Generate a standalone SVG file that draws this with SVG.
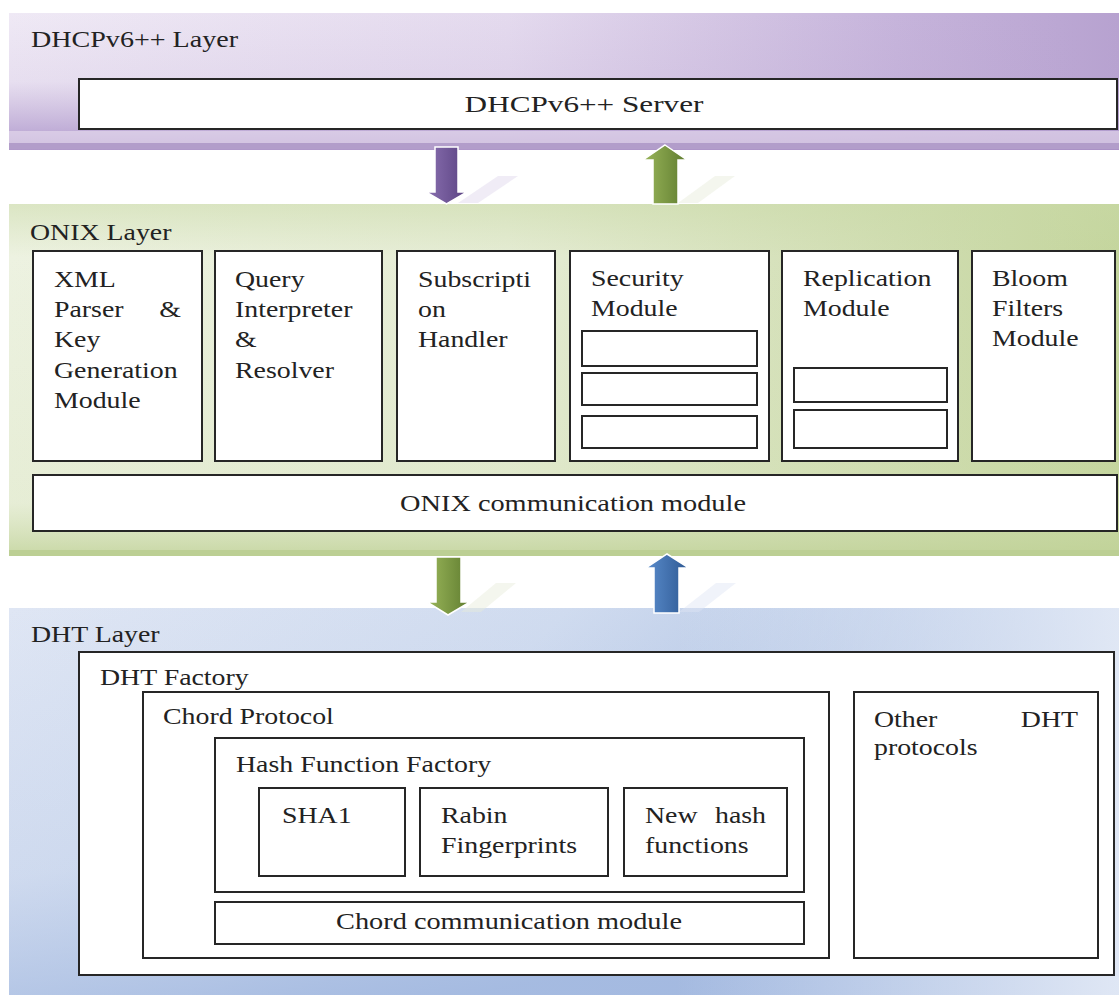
<svg xmlns="http://www.w3.org/2000/svg" width="1119" height="995" viewBox="0 0 1119 995">
<defs>
<linearGradient id="pH" x1="0" y1="0" x2="1" y2="0"><stop offset="0" stop-color="#efe9f5"/><stop offset="0.45" stop-color="#e4daee"/><stop offset="0.8" stop-color="#c6b4db"/><stop offset="1" stop-color="#b7a2d0"/></linearGradient>
<linearGradient id="pV" x1="0" y1="0" x2="0" y2="1"><stop offset="0" stop-color="#b9a4d1" stop-opacity="0"/><stop offset="0.5" stop-color="#b9a4d1" stop-opacity="0.15"/><stop offset="0.85" stop-color="#b29cce" stop-opacity="0.75"/><stop offset="1" stop-color="#a88fc4" stop-opacity="0.9"/></linearGradient>
<linearGradient id="gH" x1="0" y1="0" x2="1" y2="0"><stop offset="0" stop-color="#edf2e1"/><stop offset="0.45" stop-color="#e5ecd4"/><stop offset="0.8" stop-color="#d0ddb1"/><stop offset="1" stop-color="#c4d59d"/></linearGradient>
<linearGradient id="gV" x1="0" y1="0" x2="0" y2="1"><stop offset="0" stop-color="#c9d9a6" stop-opacity="0.5"/><stop offset="0.15" stop-color="#c9d9a6" stop-opacity="0"/><stop offset="0.85" stop-color="#cbdaa8" stop-opacity="0.2"/><stop offset="1" stop-color="#bfd196" stop-opacity="0.8"/></linearGradient>
<linearGradient id="bD" x1="0" y1="0" x2="1" y2="0.35"><stop offset="0" stop-color="#dfe6f4"/><stop offset="0.45" stop-color="#d2ddf0"/><stop offset="1" stop-color="#a0b7de"/></linearGradient>
<linearGradient id="bV" x1="0" y1="0" x2="0.4" y2="1"><stop offset="0" stop-color="#a7bce1" stop-opacity="0"/><stop offset="0.6" stop-color="#a7bce1" stop-opacity="0.2"/><stop offset="1" stop-color="#a3b9e0" stop-opacity="0.9"/></linearGradient>
<linearGradient id="bR" x1="0" y1="0" x2="1" y2="0"><stop offset="0" stop-color="#e6ecf7" stop-opacity="0"/><stop offset="0.6" stop-color="#e6ecf7" stop-opacity="0"/><stop offset="1" stop-color="#e6ecf7" stop-opacity="0.9"/></linearGradient>
<linearGradient id="aPurple" x1="0" y1="0" x2="1" y2="0"><stop offset="0" stop-color="#8a70b0"/><stop offset="1" stop-color="#5a4282"/></linearGradient>
<linearGradient id="aGreen" x1="0" y1="0" x2="1" y2="0"><stop offset="0" stop-color="#9ab65a"/><stop offset="1" stop-color="#5f7c2f"/></linearGradient>
<linearGradient id="aBlue" x1="0" y1="0" x2="1" y2="0"><stop offset="0" stop-color="#5a8ccc"/><stop offset="1" stop-color="#2d5892"/></linearGradient>
</defs>
<style>
.box{fill:#ffffff;stroke:#262626;stroke-width:2}
.t{font-family:"Liberation Serif","Times New Roman",serif;font-size:24px;fill:#222}
.arr{stroke:#ffffff;stroke-width:1.5}
.sh{opacity:0.45}
</style>

<g id="dhcp-layer">
<rect x="9" y="13" width="1110" height="137" fill="url(#pH)"/>
<rect x="9" y="13" width="1110" height="137" fill="url(#pV)"/>
<rect x="9" y="131" width="1110" height="12" fill="#ece4f3" opacity="0.55"/>
<rect x="9" y="143" width="1110" height="6" fill="#b29dca"/>
<text class="t" transform="translate(31 47) scale(1.17 1)">DHCPv6++ Layer</text>
</g>
<g id="dhcp-server">
<rect class="box" x="79" y="79" width="1038" height="50"/>
<text class="t" text-anchor="middle" transform="translate(584 112) scale(1.3 1)">DHCPv6++ Server</text>
</g>

<g id="onix-layer">
<rect x="9" y="204" width="1110" height="352" fill="url(#gH)"/>
<rect x="9" y="204" width="1110" height="352" fill="url(#gV)"/>
<rect x="9" y="550" width="1110" height="6" fill="#bccf94"/>
<text class="t" transform="translate(30 240) scale(1.16 1)">ONIX Layer</text>
</g>
<g id="xml-parser">
<rect class="box" x="33" y="251" width="169" height="210"/>
<text class="t" transform="translate(54 287) scale(1.16 1)">XML</text>
<text class="t" transform="translate(54 317) scale(1.16 1)">Parser</text>
<text class="t" text-anchor="end" transform="translate(181 317) scale(1.16 1)">&amp;</text>
<text class="t" transform="translate(54 347) scale(1.16 1)">Key</text>
<text class="t" transform="translate(54 378) scale(1.16 1)">Generation</text>
<text class="t" transform="translate(54 408) scale(1.16 1)">Module</text>
</g>
<g id="query-interpreter">
<rect class="box" x="215" y="251" width="167" height="210"/>
<text class="t" transform="translate(235 287) scale(1.16 1)">Query</text>
<text class="t" transform="translate(235 317) scale(1.16 1)">Interpreter</text>
<text class="t" transform="translate(235 347) scale(1.16 1)">&amp;</text>
<text class="t" transform="translate(235 378) scale(1.16 1)">Resolver</text>
</g>
<g id="subscription-handler">
<rect class="box" x="397" y="251" width="158" height="210"/>
<text class="t" transform="translate(418 287) scale(1.16 1)">Subscripti</text>
<text class="t" transform="translate(418 317) scale(1.16 1)">on</text>
<text class="t" transform="translate(418 347) scale(1.16 1)">Handler</text>
</g>
<g id="security-module">
<rect class="box" x="570" y="251" width="199" height="210"/>
<text class="t" transform="translate(591 286) scale(1.16 1)">Security</text>
<text class="t" transform="translate(591 316) scale(1.16 1)">Module</text>
<rect class="box" x="582" y="331" width="175" height="35"/>
<rect class="box" x="582" y="373" width="175" height="32"/>
<rect class="box" x="582" y="416" width="175" height="32"/>
</g>
<g id="replication-module">
<rect class="box" x="782" y="251" width="176" height="210"/>
<text class="t" transform="translate(803 286) scale(1.16 1)">Replication</text>
<text class="t" transform="translate(803 316) scale(1.16 1)">Module</text>
<rect class="box" x="794" y="368" width="153" height="34"/>
<rect class="box" x="794" y="410" width="153" height="38"/>
</g>
<g id="bloom-filters">
<rect class="box" x="972" y="251" width="143" height="210"/>
<text class="t" transform="translate(992 286) scale(1.16 1)">Bloom</text>
<text class="t" transform="translate(992 316) scale(1.16 1)">Filters</text>
<text class="t" transform="translate(992 346) scale(1.16 1)">Module</text>
</g>
<g id="onix-comm">
<rect class="box" x="33" y="475" width="1084" height="56"/>
<text class="t" text-anchor="middle" transform="translate(573 511) scale(1.18 1)">ONIX communication module</text>
</g>

<g id="dht-layer">
<rect x="9" y="608" width="1110" height="387" fill="url(#bD)"/>
<rect x="9" y="608" width="1110" height="387" fill="url(#bV)"/>
<rect x="9" y="608" width="1110" height="387" fill="url(#bR)"/>
<text class="t" transform="translate(31 642) scale(1.16 1)">DHT Layer</text>
</g>
<g id="dht-factory">
<rect class="box" x="79" y="652" width="1035" height="323"/>
<text class="t" transform="translate(100 685) scale(1.16 1)">DHT Factory</text>
</g>
<g id="chord-protocol">
<rect class="box" x="143" y="692" width="686" height="266"/>
<text class="t" transform="translate(163 724) scale(1.16 1)">Chord Protocol</text>
</g>
<g id="hash-function-factory">
<rect class="box" x="215" y="738" width="589" height="154"/>
<text class="t" transform="translate(236 772) scale(1.16 1)">Hash Function Factory</text>
</g>
<g id="sha1">
<rect class="box" x="259" y="788" width="146" height="88"/>
<text class="t" transform="translate(282 823) scale(1.16 1)">SHA1</text>
</g>
<g id="rabin">
<rect class="box" x="420" y="788" width="188" height="88"/>
<text class="t" transform="translate(441 823) scale(1.16 1)">Rabin</text>
<text class="t" transform="translate(441 853) scale(1.16 1)">Fingerprints</text>
</g>
<g id="new-hash">
<rect class="box" x="624" y="788" width="163" height="88"/>
<text class="t" transform="translate(645 823) scale(1.16 1)">New</text>
<text class="t" text-anchor="end" transform="translate(766 823) scale(1.16 1)">hash</text>
<text class="t" transform="translate(645 853) scale(1.16 1)">functions</text>
</g>
<g id="chord-comm">
<rect class="box" x="215" y="902" width="589" height="42"/>
<text class="t" text-anchor="middle" transform="translate(509 929) scale(1.18 1)">Chord communication module</text>
</g>
<g id="other-dht">
<rect class="box" x="854" y="692" width="244" height="266"/>
<text class="t" transform="translate(874 727) scale(1.16 1)">Other</text>
<text class="t" text-anchor="end" transform="translate(1078 727) scale(1.16 1)">DHT</text>
<text class="t" transform="translate(874 755) scale(1.16 1)">protocols</text>
</g>

<g id="connectors">
<polygon class="sh" fill="#ddd4ea" points="458,203 478,203 518,176 498,176"/>
<polygon class="arr" fill="url(#aPurple)" points="435,147 458,147 458,192 467,192 446.5,204 426,192 435,192"/>
<polygon class="sh" fill="#e6ecd9" points="678,203 698,203 735,176 715,176"/>
<polygon class="arr" fill="url(#aGreen)" points="665,145 687,160 678,160 678,204 653,204 653,160 643,160"/>
<polygon class="sh" fill="#e6ecd9" points="461,612 481,612 516,583 496,583"/>
<polygon class="arr" fill="url(#aGreen)" points="436,557 461,557 461,602 470,602 448,615 427,602 436,602"/>
<polygon class="sh" fill="#dde5f3" points="679,612 699,612 736,583 716,583"/>
<polygon class="arr" fill="url(#aBlue)" points="667,554 689,568 679,568 679,613 654,613 654,568 646,568"/>
</g>
</svg>
